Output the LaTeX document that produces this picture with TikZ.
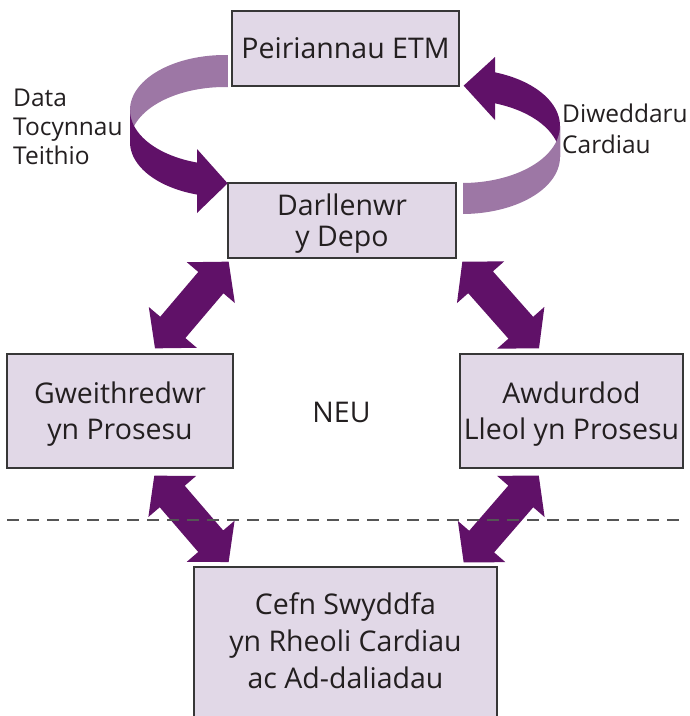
\documentclass[tikz,border=0pt]{standalone}
\usepackage{fontspec}
\setmainfont{Open Sans}
\usetikzlibrary{calc}
\definecolor{boxfill}{RGB}{225,216,231}
\definecolor{boxline}{RGB}{55,55,55}
\definecolor{darkp}{RGB}{96,17,104}
\definecolor{lightp}{RGB}{157,119,165}
\definecolor{dashc}{RGB}{85,85,85}
\definecolor{textc}{RGB}{35,31,32}
\newcommand{\topst}{\rule{0pt}{28.4pt}}
\newcommand{\botst}{\rule[-8pt]{0pt}{8pt}}
\newcommand{\botstC}{\rule[-19.4pt]{0pt}{19.4pt}}
\newcommand{\dblarr}[2]{%
  \path ($(#1)!27.5pt!(#2)$) coordinate (#1h) ($(#2)!27.5pt!(#1)$) coordinate (#2h);
  \fill[darkp] (#1) -- ($(#1h)!31.5pt!90:(#2)$) -- ($(#1h)!16.5pt!90:(#2)$)
    -- ($(#2h)!16.5pt!-90:(#1)$) -- ($(#2h)!31.5pt!-90:(#1)$) -- (#2)
    -- ($(#2h)!31.5pt!90:(#1)$) -- ($(#2h)!16.5pt!90:(#1)$)
    -- ($(#1h)!16.5pt!-90:(#2)$) -- ($(#1h)!31.5pt!-90:(#2)$) -- cycle;}
\begin{document}
\begin{tikzpicture}[x=1pt,y=-1pt,
  box/.style={draw=boxline, line width=1.3pt, fill=boxfill, inner sep=0pt,
    align=center, text=textc},
  lbl/.style={inner sep=0pt, align=left, text=textc,
    font=\fontsize{24.5}{29.3}\selectfont}]
\useasboundingbox (0,0) rectangle (690,716);

% boxes
\node[box, minimum width=227pt, minimum height=75pt,
  font=\fontsize{28.5}{36}\selectfont] (P) at (345.5,48.5) {\topst Peiriannau ETM\botst};
\node[box, minimum width=228pt, minimum height=75pt,
  font=\fontsize{28.5}{31}\selectfont] (D) at (342,220.5) {\topst Darllenwr\\y Depo\botst};
\node[box, minimum width=226pt, minimum height=114pt,
  font=\fontsize{28.5}{36}\selectfont] (G) at (120,411) {\topst Gweithredwr\\yn Prosesu\botst};
\node[box, minimum width=223pt, minimum height=114pt,
  font=\fontsize{28.5}{36}\selectfont] (A) at (571.5,411) {\topst Awdurdod\\Lleol yn Prosesu\botst};
\node[box, minimum width=303pt, minimum height=160pt,
  font=\fontsize{28.5}{37}\selectfont] (C) at (345.5,647) {\topst Cefn Swyddfa\\yn Rheoli Cardiau\\ac Ad-daliadau\botstC};

% curved arrow, left (Peiriannau -> Darllenwr)
\fill[lightp] plot[domain=88.2:180, samples=60] ({225+95*cos(\x)},{110-55*sin(\x)})
  -- plot[domain=180:88.2, samples=60] ({225+95*cos(\x)},{142-55*sin(\x)}) -- cycle;
\fill[darkp] plot[domain=180:252.9, samples=60] ({225+95*cos(\x)},{110-55*sin(\x)})
  -- plot[domain=252.9:180, samples=60] ({225+95*cos(\x)},{142-55*sin(\x)}) -- cycle;
\coordinate (lt) at ($(D.north west)+(0.3,1)$);
\fill[darkp] (197,149) -- (lt) -- (197,213) -- cycle;

% curved arrow, right (Darllenwr -> Peiriannau)
\fill[darkp] plot[domain=70.3:0, samples=60] ({462+98*cos(\x)},{126-57*sin(\x)})
  -- plot[domain=0:70.3, samples=60] ({462+98*cos(\x)},{157-57*sin(\x)}) -- cycle;
\coordinate (rt) at ($(P.south east)+(4,-1)$);
\fill[darkp] (495,57) -- (rt) -- (495,120) -- cycle;
\fill[lightp] plot[domain=0:-89.4, samples=60] ({462+98*cos(\x)},{126-57*sin(\x)})
  -- plot[domain=-89.4:0, samples=60] ({462+98*cos(\x)},{157-57*sin(\x)}) -- cycle;

% straight double arrows
\coordinate (ula) at ($(D.south west)+(1.3,3)$);
\coordinate (ulb) at ($(G.north)+(35,-5)$);
\coordinate (ura) at ($(D.south east)+(5.7,3)$);
\coordinate (urb) at ($(A.north)+(-32.5,-5)$);
\coordinate (lla) at ($(G.south)+(34.3,7)$);
\coordinate (llb) at ($(C.north west)+(35.3,-4.3)$);
\coordinate (lra) at ($(A.south)+(-32.7,7)$);
\coordinate (lrb) at ($(C.north east)+(-34,-4)$);
\dblarr{ula}{ulb}
\dblarr{ura}{urb}
\dblarr{lla}{llb}
\dblarr{lra}{lrb}

% dashed separator
\coordinate (dl) at (7,520);
\coordinate (dr) at (682,520);
\draw[dashc, line width=1.3pt, dash pattern=on 12pt off 8pt] (dl) -- (dr);

% labels
\node[lbl, anchor=north west] (ldata) at (13,81) {\rule{0pt}{25pt}Data\\Tocynnau\\Teithio};
\node[lbl, anchor=north west, font=\fontsize{24.5}{31.5}\selectfont] (rdata) at (562,97)
  {\rule{0pt}{25pt}Diweddaru\\Cardiau};
\node[anchor=base, inner sep=0pt, text=textc, font=\fontsize{28.5}{36}\selectfont] (neu)
  at (341.5,422) {NEU};
\end{tikzpicture}
\end{document}
